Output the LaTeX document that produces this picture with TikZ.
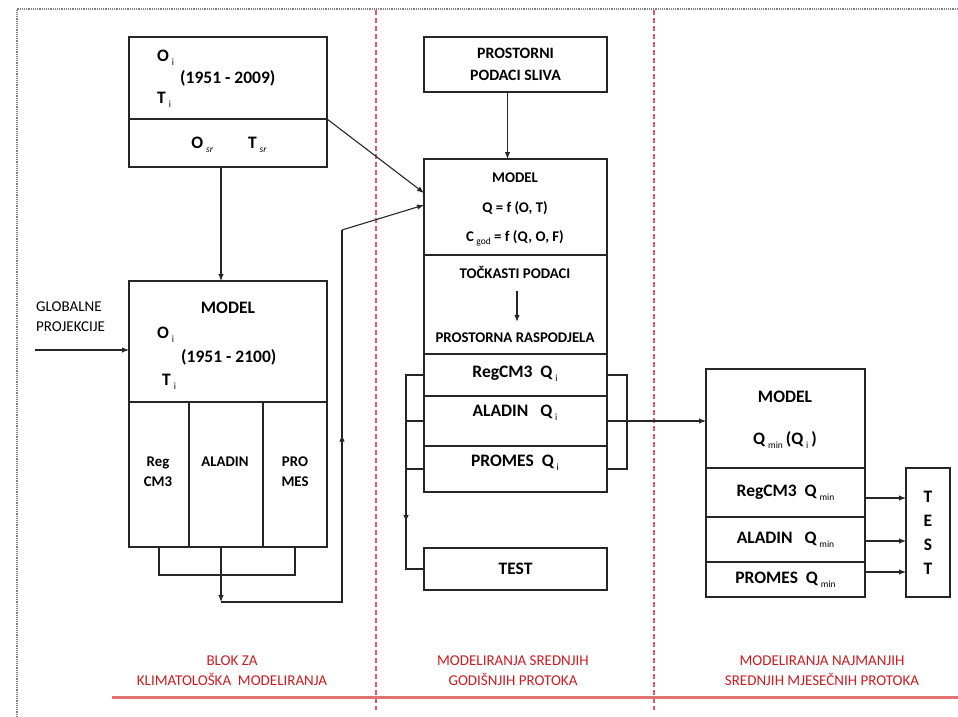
\documentclass[tikz,border=0pt]{standalone}
\usepackage{fontspec}
\setmainfont{Carlito}
\usetikzlibrary{positioning, arrows.meta, calc}
\definecolor{labred}{RGB}{200,30,35}
\definecolor{linered}{RGB}{225,115,115}
\definecolor{dashred}{RGB}{220,90,100}
\newcommand{\idx}[1]{\,\raisebox{-0.45ex}{\fontsize{9.5}{9.5}\selectfont\mdseries #1}}

\begin{document}
\begin{tikzpicture}[x=1pt,y=-1pt,>={Latex[length=7pt,width=5.5pt]},
	cell/.style={draw=black!85,line width=1.2pt,anchor=north west,inner sep=0pt,outer sep=0pt},
	big/.style={font=\fontsize{17.5}{21}\selectfont\bfseries,align=center,inner sep=0pt},
	small/.style={font=\fontsize{14.8}{20}\selectfont\bfseries,align=center,inner sep=0pt},
	note/.style={font=\fontsize{15}{20}\selectfont,align=left,inner sep=0pt},
	zone/.style={font=\fontsize{15}{20}\selectfont,text=labred,align=center,inner sep=0pt},
	conn/.style={draw=black!85,line width=1.1pt}]
	\useasboundingbox (0,0) rectangle (958,717);
	% frame and zones
	\draw[gray,densely dotted,line width=1.2pt] (958,9) -- (17,9) -- (17,717);
	\draw[dashred,dash pattern=on 5pt off 3pt,line width=1.3pt] (376,10) -- (376,710);
	\draw[dashred,dash pattern=on 5pt off 3pt,line width=1.3pt] (654,10) -- (654,710);
	\draw[linered,line width=3pt] (112,697) -- (958,697);
	\node[zone] (z-1) at (232,671) {BLOK ZA\\KLIMATOLOŠKA\ \ MODELIRANJA};
	\node[zone] (z-2) at (513,671) {MODELIRANJA SREDNJIH\\GODIŠNJIH PROTOKA};
	\node[zone] (z-3) at (822,671) {MODELIRANJA NAJMANJIH\\SREDNJIH MJESEČNIH PROTOKA};
	% climate block
	\node[cell,minimum width=198,minimum height=82] (obs) at (129,37) {};
	\node[cell,minimum width=198,minimum height=48] (obs-sr) at (obs.south west) {};
	\node[big,anchor=west] (obs-o) at (157,58) {O\idx{i}};
	\node[big,anchor=west] (obs-yr) at (180,78) {(1951 - 2009)};
	\node[big,anchor=west] (obs-t) at (157,100) {T\idx{i}};
	\node[big] (obs-m) at (229,145) {O\idx{\itshape sr}\qquad T\idx{\itshape sr}};
	\node[cell,minimum width=198,minimum height=121] (clim) at (129,281) {};
	\node[cell,minimum width=60,minimum height=145] (rcm) at (clim.south west) {};
	\node[cell,minimum width=74,minimum height=145] (ala) at (rcm.north east) {};
	\node[cell,minimum width=64,minimum height=145] (pro) at (ala.north east) {};
	\node[big] (clim-t) at (228,308) {MODEL};
	\node[big,anchor=west] (clim-o) at (157,335) {O\idx{i}};
	\node[big,anchor=west] (clim-yr) at (181,357) {(1951 - 2100)};
	\node[big,anchor=west] (clim-t2) at (162,382) {T\idx{i}};
	\node[small] (rcm-t) at (158,472) {Reg\\CM3};
	\node[small] (ala-t) at (225,462) {ALADIN};
	\node[small] (pro-t) at (295,472) {PRO\\MES};
	\node[note,anchor=west] (glob) at (36,317) {GLOBALNE\\PROJEKCIJE};
	\coordinate (glob-in) at (35,350);
	\draw[conn,->] (glob-in) -- (glob-in -| clim.west);
	\draw[conn,->] ([xshift=-7pt]obs-sr.south) -- ([xshift=-7pt]clim.north);
	\coordinate (mix) at (221,602);
	\coordinate (mix-r) at (342,602);
	\coordinate (mix-t) at (342,230);
	\draw[conn] (rcm.south) -- ++(0,28) -| (pro.south);
	\draw[conn,->] ([xshift=-5pt]ala.south) -- (mix);
	\draw[conn] (mix) -- (mix-r) -- (mix-t);
	\draw[conn,->] (mix-r) -- ($(mix-r)!0.45!(mix-t)$);
	% mean annual flow block
	\node[cell,big,minimum width=183,minimum height=55,font=\fontsize{15.8}{22}\selectfont\bfseries] (gis) at (424,37) {PROSTORNI\\PODACI SLIVA};
	\node[cell,minimum width=183,minimum height=96] (mod) at (424,159) {};
	\node[cell,minimum width=183,minimum height=99] (pts) at (mod.south west) {};
	\node[cell,minimum width=183,minimum height=42] (q-1) at (pts.south west) {};
	\node[cell,minimum width=183,minimum height=50] (q-2) at (q-1.south west) {};
	\node[cell,minimum width=183,minimum height=46] (q-3) at (q-2.south west) {};
	\node[small] (mod-t) at (515,178) {MODEL};
	\node[small] (mod-q) at (515,208) {Q = f (O, T)};
	\node[small] (mod-c) at (515,238) {C\idx{god} = f (Q, O, F)};
	\node[small] (pts-a) at (515,272) {TOČKASTI PODACI};
	\node[small] (pts-b) at (515,338) {PROSTORNA RASPODJELA};
	\node[big] (q-1-t) at (515,374) {RegCM3\ \ Q\idx{i}};
	\node[big] (q-2-t) at (515,413) {ALADIN\ \ \ Q\idx{i}};
	\node[big] (q-3-t) at (515,463) {PROMES\ \ Q\idx{i}};
	\node[cell,big,minimum width=183,minimum height=42] (test) at (424,548) {TEST};
	\draw[conn,->] ([xshift=-8pt]gis.south) -- ([xshift=-8pt]mod.north);
	\draw[conn,->] ([xshift=2pt,yshift=-13pt]pts-a.south) -- ([xshift=2pt,yshift=11pt]pts-b.north);
	\draw[conn,->] (obs.south east) -- ([yshift=14pt]mod.west);
	\draw[conn,->] (mix-t) -- ([yshift=2pt]mod.west);
	\coordinate (lb) at (406,569);
	\coordinate (rb) at (627,421);
	\draw[conn] (q-1.west) -| (lb) -- (test.west);
	\draw[conn] (q-2.west) -- (q-2.west -| lb);
	\draw[conn,->] (q-3.west -| lb) -- ([yshift=47pt]lb);
	\draw[conn] (q-3.west) -- (q-3.west -| lb);
	\draw[conn] (q-1.east) -| (q-3.east -| rb) -- (q-3.east);
	% minimum monthly flow block
	\node[cell,minimum width=159,minimum height=99] (mmod) at (706,369) {};
	\node[cell,big,minimum width=159,minimum height=49] (qm-1) at (mmod.south west) {RegCM3\ \ Q\idx{min}};
	\node[cell,big,minimum width=159,minimum height=45] (qm-2) at (qm-1.south west) {ALADIN\ \ \ Q\idx{min}};
	\node[cell,big,minimum width=159,minimum height=35] (qm-3) at (qm-2.south west) {PROMES\ \ Q\idx{min}};
	\node[big] (mmod-t) at (785,397) {MODEL};
	\node[big] (mmod-q) at (785,440) {Q\idx{min}\,(Q\idx{i}\,)};
	\node[cell,big,minimum width=44,minimum height=129,font=\fontsize{17.5}{24}\selectfont\bfseries] (tv) at (906,468) {T\\E\\S\\T};
	\draw[conn,->] (q-2.east) -- (q-2.east -| mmod.west);
	\foreach \r/\s in {1/-5.5,2/-1.5,3/7.5}
		\draw[conn,->] ([yshift=\s pt]qm-\r.east) -- ([yshift=\s pt]qm-\r.east -| tv.west);
\end{tikzpicture}
\end{document}
